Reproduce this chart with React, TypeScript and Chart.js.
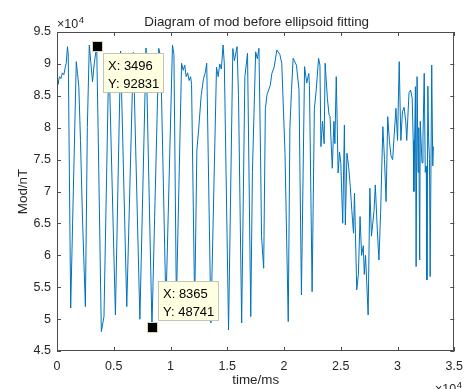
import React, { useEffect, useRef } from 'react';
import { Chart, registerables } from 'chart.js';

Chart.register(...registerables);

// time axis (ms) and magnetic modulus (nT)
const timeMs = [
  0, 86, 215, 345, 474, 603, 733, 819, 922, 991, 1207,
  1698, 1810, 1922, 2069, 2241, 2500, 2672, 2845, 3129, 3276, 3496, 3620, 3905, 4051, 4138,
  4569, 5146, 5603, 6146, 6724, 7301, 7844, 8365, 8965, 9138, 9595,
  10172, 10300, 10517, 10974, 11120, 11250, 11380, 11510, 11640, 11770, 11855, 12130,
  12323, 12474, 12698, 12905, 13043, 13190, 13560, 14052, 14198, 14336, 14481, 14628, 14741,
  15112, 15490, 15630, 15862, 15990, 16267, 16550, 16784, 17068, 17214, 17500, 17645, 17790,
  17930, 18017, 18207, 18355, 18500, 18785, 18930, 19130, 19368, 19627, 19800, 20085, 20370,
  20517, 20662, 20800, 21093, 21317, 21533, 21810, 22000, 22180, 22240, 22474, 22672, 22817,
  23043, 23163, 23250, 23390, 23534, 23620, 23818, 23965, 24051, 24250, 24395, 24480, 24600,
  24766, 24887, 25000, 25170, 25318, 25400, 25543, 25690, 25835, 25973, 26120, 26205, 26405,
  26550, 26697, 26835, 26982, 27070, 27180, 27410, 27560, 27700, 27930, 28040, 28215, 28360,
  28505, 28705, 28850, 28990, 29135, 29280, 29420, 29570, 29710, 29855, 30000, 30145, 30290,
  30430, 30576, 30720, 30810, 31010, 31150, 31290, 31380, 31440, 31575, 31635, 31720, 31810,
  31870, 31950, 32000, 32155, 32240, 32350, 32440, 32530, 32585, 32670, 32730, 32815, 32870,
  33010, 33100, 33160,
];

const modNT = [
  87200, 86800, 88000, 87700, 88600, 88300, 89500, 90200, 92700, 91500, 51750,
  90350, 88500, 86430, 78000, 66000, 51950, 80000, 92960, 87200, 90000, 92831, 80000, 48040, 49500, 50400,
  91500, 50650, 92000, 51950, 91800, 49970, 92500, 48741, 92440, 91000, 52000,
  92960, 91500, 52500, 90100, 89000, 89800, 88000, 88600, 87400, 88000, 86800, 52000,
  76500, 79640, 85000, 87700, 88500, 90100, 49400, 89500, 88000, 90000, 89200, 92960, 90000,
  48300, 92400, 90500, 92700, 85000, 49400, 88000, 91660, 50400, 73000, 91900, 90800, 92440,
  76000, 63000, 57970, 83000, 85200, 86600, 88500, 89500, 92180, 91500, 90100, 76000, 49600,
  80000, 86000, 90880, 89800, 86000, 53790, 89570, 87000, 88500, 86600, 54300, 83000, 85500,
  90880, 89800, 77030, 81000, 77500, 90100, 84600, 82000, 81800, 73640, 81000, 77500, 88000,
  72900, 76200, 74500, 65030, 80430, 64760, 76000, 73900, 70800, 67000, 63460, 69730, 54570,
  57000, 66060, 60000, 61500, 57000, 60000, 50650, 70510, 63000, 67000, 71030, 64000, 59270,
  66500, 80160, 75000, 68420, 81730, 78000, 75600, 75000, 79000, 83040, 78000, 90350, 78000,
  82500, 83200, 81000, 78000, 85500, 85910, 84600, 78000, 70000, 86430, 58230, 88000, 73000,
  80000, 59270, 81000, 74500, 78500, 88520, 73000, 74000, 56140, 86500, 78500, 75000, 56660,
  89830, 74000, 77030,
];

const xTickValues = [0, 5000, 10000, 15000, 20000, 25000, 30000, 35000];
const yTickValues = [45000, 50000, 55000, 60000, 65000, 70000, 75000, 80000, 85000, 90000, 95000];

const tipX = [3496, 8365];
const tipY = [92831, 48741];
const tipBelow = [true, false];

const TITLE = 'Diagram of mod before ellipsoid fitting';
const X_LABEL = 'time/ms';
const Y_LABEL = 'Mod/nT';

const FONT = '"Liberation Sans", Arial, Helvetica, sans-serif';
const TEXT = '#262626';

const fmt = (v: number) => String(Number((v / 10000).toFixed(1)));

export default function App() {
  const ref = useRef<HTMLCanvasElement>(null);

  useEffect(() => {
    const canvas = ref.current;
    if (!canvas) return;
    const points = timeMs.map((t, i) => ({ x: t, y: modNT[i] }));

    const decor = {
      id: 'decor',
      afterDraw(chart: any) {
        const ctx = chart.ctx as CanvasRenderingContext2D;
        const xs = chart.scales.x;
        const ys = chart.scales.y;
        const { left, right, top, bottom } = chart.chartArea;
        ctx.save();
        // frame
        ctx.strokeStyle = '#4d4d4d';
        ctx.lineWidth = 1;
        ctx.strokeRect(Math.round(left) + 0.5, Math.round(top) + 0.5, Math.round(right - left) - 1, Math.round(bottom - top) - 1);
        // inward ticks
        const tl = 4;
        ctx.beginPath();
        xTickValues.forEach((v) => {
          const px = Math.round(xs.getPixelForValue(v)) + 0.5;
          ctx.moveTo(px, bottom);
          ctx.lineTo(px, bottom - tl);
          ctx.moveTo(px, top);
          ctx.lineTo(px, top + tl);
        });
        yTickValues.forEach((v) => {
          const py = Math.round(ys.getPixelForValue(v)) + 0.5;
          ctx.moveTo(left, py);
          ctx.lineTo(left + tl, py);
          ctx.moveTo(right, py);
          ctx.lineTo(right - tl, py);
        });
        ctx.stroke();

        ctx.fillStyle = TEXT;
        // title
        ctx.font = `13.4px ${FONT}`;
        ctx.textAlign = 'center';
        ctx.textBaseline = 'alphabetic';
        ctx.fillText(TITLE, (left + right) / 2 + 1, 26);
        // x label
        ctx.fillText(X_LABEL, (left + right) / 2, 384);
        // y label
        ctx.save();
        ctx.translate(27, (top + bottom) / 2);
        ctx.rotate(-Math.PI / 2);
        ctx.fillText(Y_LABEL, 0, 0);
        ctx.restore();

        // exponent labels
        const drawExp = (x: number, y: number) => {
          ctx.textAlign = 'left';
          ctx.font = `12.5px ${FONT}`;
          ctx.fillText('\u00d710', x, y);
          const w = ctx.measureText('\u00d710').width;
          ctx.font = `9.5px ${FONT}`;
          ctx.fillText('4', x + w + 0.5, y - 5);
        };
        drawExp(57, 28);
        drawExp(435, 393);

        // data tips
        tipX.forEach((tx, i) => {
          const px = xs.getPixelForValue(tx);
          const py = ys.getPixelForValue(tipY[i]);
          ctx.fillStyle = '#000';
          ctx.fillRect(Math.round(px) - 4, Math.round(py) - 4, 9, 9);
          ctx.strokeStyle = '#d8d8b0';
          ctx.strokeRect(Math.round(px) - 4.5, Math.round(py) - 4.5, 10, 10);
          const bw = 61;
          const bh = 40;
          const bx = Math.round(px) + 6;
          const by = tipBelow[i] ? Math.round(py) + 7 : Math.round(py) - 6 - bh;
          ctx.fillStyle = '#ffffe1';
          ctx.fillRect(bx, by, bw, bh);
          ctx.strokeStyle = '#c4c4b4';
          ctx.strokeRect(bx + 0.5, by + 0.5, bw - 1, bh - 1);
          ctx.fillStyle = '#000';
          ctx.font = `13px ${FONT}`;
          ctx.textAlign = 'left';
          ctx.textBaseline = 'alphabetic';
          ctx.fillText(`X: ${tx}`, bx + 5, by + 17);
          ctx.fillText(`Y: ${tipY[i]}`, bx + 5, by + 35);
        });
        ctx.restore();
      },
    };

    const chart = new Chart(canvas, {
      type: 'line',
      data: {
        datasets: [
          {
            data: points,
            borderColor: '#0072BD',
            borderWidth: 1,
            pointRadius: 0,
            tension: 0,
            fill: false,
          },
        ],
      },
      options: {
        responsive: false,
        animation: false,
        devicePixelRatio: 1,
        parsing: false,
        layout: { padding: { top: 32, right: 8, left: 0, bottom: 0 } },
        plugins: {
          legend: { display: false },
          tooltip: { enabled: false },
          title: { display: false },
        },
        scales: {
          x: {
            type: 'linear',
            min: 0,
            max: 35000,
            afterBuildTicks: (s: any) => {
              s.ticks = xTickValues.map((v) => ({ value: v }));
            },
            afterFit: (s: any) => {
              s.height = 38;
            },
            ticks: {
              callback: (v: any) => fmt(Number(v)),
              font: { family: FONT, size: 12.5 },
              color: TEXT,
              padding: 8,
              maxRotation: 0,
              autoSkip: false,
            },
            grid: { display: false, drawTicks: false },
            border: { display: false },
          },
          y: {
            type: 'linear',
            min: 45000,
            max: 95000,
            afterBuildTicks: (s: any) => {
              s.ticks = yTickValues.map((v) => ({ value: v }));
            },
            afterFit: (s: any) => {
              s.width = 57;
            },
            ticks: {
              callback: (v: any) => fmt(Number(v)),
              font: { family: FONT, size: 12.5 },
              color: TEXT,
              padding: 6,
              autoSkip: false,
            },
            grid: { display: false, drawTicks: false },
            border: { display: false },
          },
        },
      },
      plugins: [decor],
    } as any);

    return () => chart.destroy();
  }, []);

  return (
    <div style={{ position: 'fixed', left: 0, top: 0, width: 471, height: 389, background: '#fff' }}>
      <canvas ref={ref} width={471} height={389} style={{ display: 'block', width: 471, height: 389 }} />
    </div>
  );
}
